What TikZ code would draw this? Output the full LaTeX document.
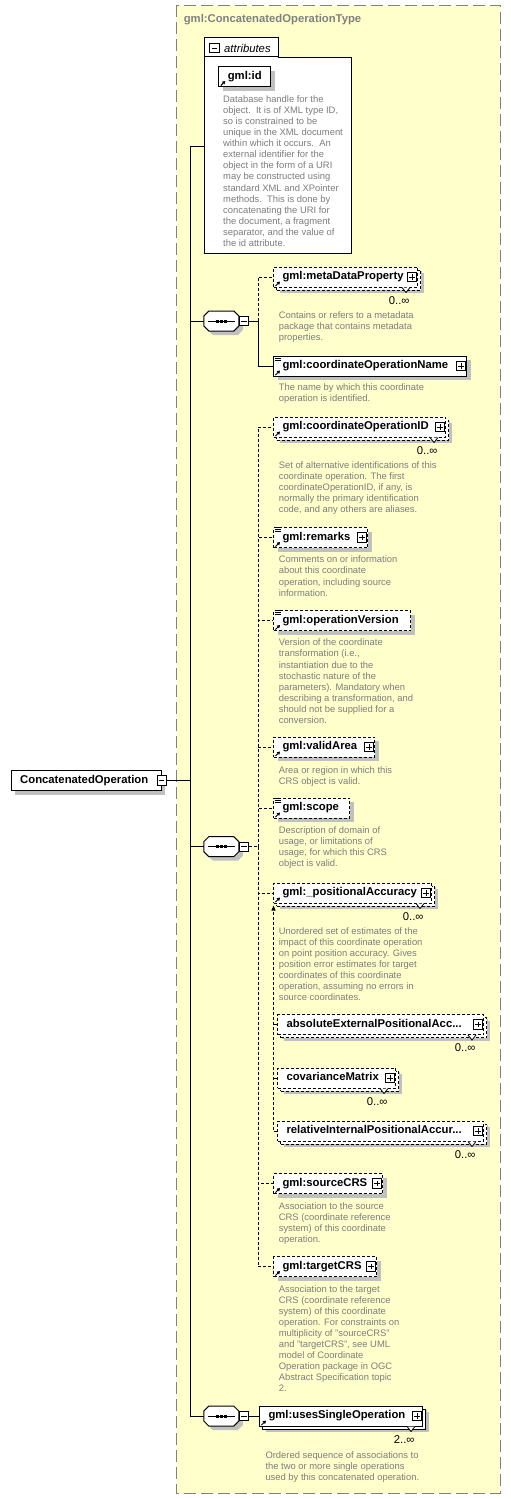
\documentclass[tikz,border=0pt]{standalone}
\usepackage{fontspec}
\setmainfont{Liberation Sans}
\usetikzlibrary{shadows,arrows.meta}

\definecolor{xsdyellow}{RGB}{255,255,204}
\definecolor{xsdgray}{RGB}{128,128,128}
\definecolor{shgray}{RGB}{192,192,192}
\definecolor{descgray}{RGB}{125,125,125}

\newcommand{\lblfont}{\fontsize{11.3}{13}\selectfont\bfseries}
\newcommand{\lblitfont}{\fontsize{11.3}{13}\selectfont\itshape}
\newcommand{\descfont}{\fontsize{9.4}{11.05}\selectfont}
\newcommand{\multfont}{\fontsize{11.3}{13}\selectfont}
% octagon outline round a sequence node
\newcommand{\seqoutline}[1]{([xshift=5pt]#1.north west) -- ([xshift=-5pt]#1.north east)
  -- ([yshift=-5pt]#1.north east) -- ([yshift=5pt]#1.south east)
  -- ([xshift=-5pt]#1.south east) -- ([xshift=5pt]#1.south west)
  -- ([yshift=5pt]#1.south west) -- ([yshift=-5pt]#1.north west) -- cycle}

\tikzset{
  sh/.style={drop shadow={shadow xshift=4pt,shadow yshift=-4pt,fill=shgray,opacity=1}},
  elem/.style={draw, fill=white, anchor=west, inner xsep=0pt, inner ysep=0pt,
    minimum height=20pt, text height=8.3pt, text depth=2.4pt, align=left,
    font=\lblfont, sh},
  opt/.style={dash pattern=on 3pt off 2pt},
  rep/.style={general shadow={shadow xshift=6pt,shadow yshift=-6pt,fill=shgray,opacity=1},
    general shadow={shadow xshift=3pt,shadow yshift=-3pt,draw=black,fill=white,opacity=1}},
  rep opt/.style={general shadow={shadow xshift=6pt,shadow yshift=-6pt,fill=shgray,opacity=1},
    general shadow={shadow xshift=3pt,shadow yshift=-3pt,draw=black,fill=white,opacity=1,
      dash pattern=on 3pt off 2pt}},
  optline/.style={dash pattern=on 3pt off 2pt},
  desc/.style={anchor=north west, inner sep=0pt, align=left, font=\descfont, text=descgray},
  mult/.style={anchor=east, inner sep=0pt, font=\multfont},
  pmbox/.style={draw, fill=white, minimum size=9.5pt, inner sep=0pt, line width=0.8pt},
  minusbox/.style={pmbox, path picture={
    \draw[line width=0.8pt] ([xshift=2pt]path picture bounding box.west) -- ([xshift=-2pt]path picture bounding box.east);}},
  plusbox/.style={pmbox, path picture={
    \draw[line width=0.8pt] ([xshift=2pt]path picture bounding box.west) -- ([xshift=-2pt]path picture bounding box.east);
    \draw[line width=0.8pt] ([yshift=-2pt]path picture bounding box.north) -- ([yshift=2pt]path picture bounding box.south);}},
  seqbox/.style={inner sep=0pt, minimum width=34pt, minimum height=19pt},
  refarrow/.style={line width=1pt, -{Triangle[length=3pt,width=3.5pt]}},
  typetitle/.style={anchor=west, inner sep=0pt, font=\lblfont, text=xsdgray},
}

\begin{document}
\begin{tikzpicture}[x=1pt,y=-1pt,line width=1pt]
\useasboundingbox (0,0) rectangle (511,1499);

% complex type frame
\draw[xsdgray, fill=xsdyellow, dash pattern=on 12pt off 5pt] (176.7,5) rectangle (500,1493.3);
\node[typetitle] (typename) at (183.3,19.3) {gml:ConcatenatedOperationType};

% attributes
\node[draw, fill=white, anchor=north west, inner sep=0pt, minimum width=146.7pt, minimum height=196pt] (attrs) at (204.3,57.3) {};
\node[draw, fill=white, anchor=south west, inner sep=0pt, minimum width=73.4pt, minimum height=19pt] (attrtab) at (204.3,57.3) {};
\draw[white, line width=1.2pt] ([xshift=0.8pt]attrtab.south west) -- ([xshift=-0.8pt]attrtab.south east);
\node[minusbox] (attrtab-m) at (214.3,48) {};
\node[anchor=west, inner sep=0pt, font=\lblitfont] (attrtab-t) at (223.7,48) {attributes};
\node[elem, text width=52pt] (id) at (218.3,76.5) {\hspace*{9pt}gml:id};
\node[desc] (id-d) at (222.7,95.3) {Database handle for the\\object.\ \ It is of XML type ID,\\so is constrained to be\\unique in the XML document\\within which it occurs.\ \ An\\external identifier for the\\object in the form of a URI\\may be constructed using\\standard XML and XPointer\\methods.\ \ This is done by\\concatenating the URI for\\the document, a fragment\\separator, and the value of\\the id attribute.};

% root
\node[elem, text width=150pt] (root) at (10.7,780.5) {\hspace*{9pt}ConcatenatedOperation};
\node[minusbox] (root-m) at (root.east) {};

% sequences
\node[seqbox] (seq1) at (221.3,321) {};
\node[seqbox] (seq2) at (221.3,846.7) {};
\node[seqbox] (seq3) at (221.3,1416) {};
\foreach \s in {seq1,seq2,seq3} {
  \fill[shgray, transform canvas={shift={(4pt,-4pt)}}] \seqoutline{\s};
  \draw[fill=white] \seqoutline{\s};
  \draw ([xshift=4pt]\s.west) -- ([xshift=-4pt]\s.east);
  \foreach \d in {-4,0,4}
    \fill ([xshift=\d pt]\s.center) +(-1.5,-1.5) rectangle +(1.5,1.5);
  \node[minusbox] (\s-m) at ([xshift=5pt]\s.east) {};
}

% first sequence
\node[elem, opt, rep opt, text width=144pt] (meta) at (273,277) {\hspace*{9pt}gml:metaDataProperty};
\node[desc] (meta-d) at (278.3,311.3) {Contains or refers to a metadata\\package that contains metadata\\properties.};
\node[elem, text width=193pt] (cname) at (273,366) {\hspace*{9pt}gml:coordinateOperationName};
\node[desc] (cname-d) at (278.3,383.3) {The name by which this coordinate\\operation is identified.};

% second sequence
\node[elem, opt, rep opt, text width=172pt] (cid) at (273,427) {\hspace*{9pt}gml:coordinateOperationID};
\node[desc] (cid-d) at (278.3,461.3) {Set of alternative identifications of this\\coordinate operation. The first\\coordinateOperationID, if any, is\\normally the primary identification\\code, and any others are aliases.};
\node[elem, opt, text width=94pt] (remarks) at (273,537.5) {\hspace*{9pt}gml:remarks};
\node[desc] (remarks-d) at (278.3,555.6) {Comments on or information\\about this coordinate\\operation, including source\\information.};
\node[elem, opt, text width=137pt] (opver) at (273,620.5) {\hspace*{9pt}gml:operationVersion};
\node[desc] (opver-d) at (278.3,638.6) {Version of the coordinate\\transformation (i.e.,\\instantiation due to the\\stochastic nature of the\\parameters). Mandatory when\\describing a transformation, and\\should not be supplied for a\\conversion.};
\node[elem, opt, text width=101pt] (varea) at (273,747) {\hspace*{9pt}gml:validArea};
\node[desc] (varea-d) at (278.3,766.3) {Area or region in which this\\CRS object is valid.};
\node[elem, opt, text width=76pt] (scope) at (273,808) {\hspace*{9pt}gml:scope};
\node[desc] (scope-d) at (278.3,826.3) {Description of domain of\\usage, or limitations of\\usage, for which this CRS\\object is valid.};
\node[elem, opt, rep opt, text width=158pt] (posacc) at (273,893) {\hspace*{9pt}gml:\_positionalAccuracy};
\node[desc] (posacc-d) at (278.3,927.3) {Unordered set of estimates of the\\impact of this coordinate operation\\on point position accuracy. Gives\\position error estimates for target\\coordinates of this coordinate\\operation, assuming no errors in\\source coordinates.};
\node[elem, opt, rep opt, text width=206pt] (absext) at (277,1024.5) {\hspace*{9pt}absoluteExternalPositionalAcc...};
\node[elem, opt, rep opt, text width=118pt] (covm) at (277,1078) {\hspace*{9pt}covarianceMatrix};
\node[elem, opt, rep opt, text width=206pt] (relint) at (277,1131) {\hspace*{9pt}relativeInternalPositionalAccur...};
\node[elem, opt, text width=109pt] (srccrs) at (273,1183.5) {\hspace*{9pt}gml:sourceCRS};
\node[desc] (srccrs-d) at (278.3,1202) {Association to the source\\CRS (coordinate reference\\system) of this coordinate\\operation.};
\node[elem, opt, text width=103pt] (tgtcrs) at (273,1266.5) {\hspace*{9pt}gml:targetCRS};
\node[desc] (tgtcrs-d) at (278.3,1285) {Association to the target\\CRS (coordinate reference\\system) of this coordinate\\operation. For constraints on\\multiplicity of "sourceCRS"\\and "targetCRS", see UML\\model of Coordinate\\Operation package in OGC\\Abstract Specification topic\\2.};

% third sequence
\node[elem, rep, text width=163pt] (uses) at (259,1416) {\hspace*{9pt}gml:usesSingleOperation};
\node[desc] (uses-d) at (265,1451.3) {Ordered sequence of associations to\\the two or more single operations\\used by this concatenated operation.};

% box decorations
\foreach \n in {meta,cname,cid,remarks,varea,posacc,absext,covm,relint,srccrs,tgtcrs,uses}
  \node[plusbox] (\n-p) at ([xshift=-6pt]\n.east) {};
\foreach \n in {id,meta,cname,cid,remarks,opver,varea,scope,posacc,srccrs,tgtcrs,uses}
  \draw[refarrow] ([shift={(2.5pt,1.5pt)}]\n.south west) -- ++(4.5,-4.5);
\foreach \n in {cname,remarks,opver,scope}
  \foreach \k in {0.5,2.5,4.5}
    \draw[line width=0.8pt] ([shift={(1.5pt,-\k pt)}]\n.north west) -- ++(6,0);
\foreach \n in {meta,cid,posacc,absext,covm,relint,uses}
  \draw[line width=0.8pt, fill=white] ([xshift=-16pt]\n.south east) -- ++(4,5) -- ++(4,-5);
\foreach \n in {meta,cid,posacc,absext,covm,relint}
  \node[mult] (\n-n) at ([shift={(-8pt,-13pt)}]\n.south east) {0..∞};
\node[mult] (uses-n) at ([shift={(-8pt,-13pt)}]uses.south east) {2..∞};

% connectors
\coordinate (trunk-top) at (190,146);
\coordinate (trunk-bot) at (190,1416);
\coordinate (br1) at (258,321);
\coordinate (br2) at (258,846.7);
\coordinate (sg-top) at (273.5,905.5);
\draw (trunk-top) -- (trunk-bot);
\draw (trunk-top) -- (trunk-top -| attrs.west);
\draw (root-m.east) -- (root-m.east -| trunk-top);
\foreach \s in {seq1,seq2,seq3}
  \draw (\s.west -| trunk-top) -- (\s.west);
\draw (seq1-m.east) -- (br1);
\draw[optline] (br1) |- (meta.west);
\draw (br1) |- (cname.west);
\draw[optline] (seq2-m.east) -- (br2);
\foreach \n in {cid,remarks,opver,varea,scope,posacc,srccrs,tgtcrs}
  \draw[optline] (br2) |- (\n.west);
\draw (seq3-m.east) -- (uses.west);
\draw[optline, -{Triangle[length=5pt,width=4pt]}] (relint.west) -| (sg-top);
\foreach \n in {absext,covm}
  \draw[optline] (\n.west) -- (\n.west -| sg-top);
\end{tikzpicture}
\end{document}
